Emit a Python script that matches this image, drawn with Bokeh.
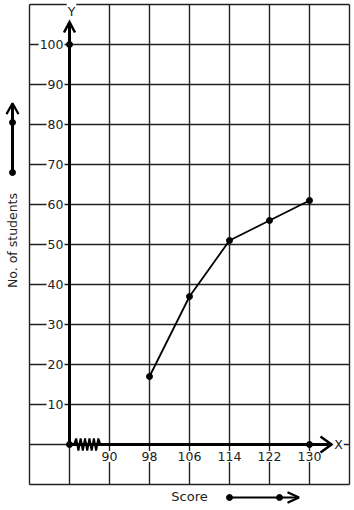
import numpy as np
from bokeh.plotting import figure
from bokeh.models import Range1d, ColumnDataSource
from bokeh.core.properties import value
from bokeh.embed import file_html
from bokeh.resources import INLINE

# ---- data ----
scores = [98, 106, 114, 122, 130]
students = [17, 37, 51, 56, 61]
x_ticks = [90, 98, 106, 114, 122, 130]
x_tick_labels = ["90", "98", "106", "114", "122", "130"]
y_ticks = [10, 20, 30, 40, 50, 60, 70, 80, 90, 100]
y_tick_labels = ["10", "20", "30", "40", "50", "60", "70", "80", "90", "100"]
x_label = "Score"
y_label = "No. of students"

# ---- geometry (data units) ----
origin_x = 82
x_step = 8
y_step = 10
grid_x = list(range(74, 139, x_step))
grid_y = list(range(-10, 111, y_step))

FONT = value("DejaVu Sans")
INK = "#222222"

p = figure(width=354, height=510, output_backend="svg", toolbar_location=None,
           x_range=Range1d(68.2, 139.0), y_range=Range1d(-16.5, 111.0),
           min_border=0, min_border_left=0, min_border_right=0,
           min_border_top=0, min_border_bottom=0)
p.axis.visible = False
p.grid.visible = False
p.outline_line_color = None
p.background_fill_color = "white"
p.border_fill_color = "white"

# grid
p.segment(x0=grid_x, y0=[grid_y[0]] * len(grid_x), x1=grid_x, y1=[grid_y[-1]] * len(grid_x),
          line_color=INK, line_width=1.4)
p.segment(x0=[grid_x[0]] * len(grid_y), y0=grid_y, x1=[grid_x[-1]] * len(grid_y), y1=grid_y,
          line_color=INK, line_width=1.4)

# y tick labels (white background over grid)
p.text(x=[origin_x - 1.0] * len(y_ticks), y=y_ticks, text=y_tick_labels,
       text_font=FONT, text_font_size="12.5px", text_color=INK,
       text_align="right", text_baseline="middle",
       background_fill_color="white", padding=1)
# x tick labels
p.text(x=x_ticks, y=[-3.0] * len(x_ticks), text=x_tick_labels,
       text_font=FONT, text_font_size="12.5px", text_color=INK,
       text_align="center", text_baseline="middle",
       background_fill_color="white", padding=1)

# axes lines
y_top = 105.0
x_right = 133.8
p.line([origin_x, origin_x], [0, y_top], line_color="black", line_width=3)
p.line([origin_x, x_right], [0, 0], line_color="black", line_width=3)
# arrow heads
p.line([origin_x - 1.1, origin_x, origin_x + 1.1], [103.0, 105.6, 103.0],
       line_color="black", line_width=2.5)
p.line([132.2, 134.4, 132.2], [2.0, 0, -2.0], line_color="black", line_width=2.5)
# axis names
p.text(x=[135.8], y=[0], text=["X"], text_font=FONT, text_font_size="12.5px",
       text_color=INK, text_align="center", text_baseline="middle",
       background_fill_color="white", padding=1)
p.text(x=[82.4], y=[108.3], text=["Y"], text_font=FONT, text_font_size="12.5px",
       text_color=INK, text_align="center", text_baseline="middle",
       background_fill_color="white", padding=1)

# axis break zigzag
n = 13
zx = np.linspace(82.9, 88.2, n)
zy = np.array([1.5 if i % 2 else -1.5 for i in range(n)])
zy[0] = 0
zy[-1] = 0
p.line(zx, zy, line_color="black", line_width=2)

# axis dots
p.scatter([origin_x, origin_x, 130], [0, 100, 0], size=6, color="black")

# data
src = ColumnDataSource(dict(x=scores, y=students))
p.line("x", "y", source=src, line_color="black", line_width=1.8)
p.scatter("x", "y", source=src, size=6, color="black")

# y label with arrow
lx = 70.6
p.text(x=[lx], y=[51], text=[y_label], angle=np.pi / 2, text_font=FONT,
       text_font_size="12.5px", text_color=INK, text_align="center",
       text_baseline="middle")
p.line([lx, lx], [68, 85], line_color="black", line_width=3)
p.line([lx - 1.2, lx, lx + 1.2], [82.6, 85.3, 82.6], line_color="black", line_width=2.2)
p.scatter([lx, lx], [68, 80.5], size=6, color="black")

# x label with arrow
ly = -13.25
p.text(x=[106], y=[-13.0], text=[x_label], text_font=FONT, text_font_size="13px",
       text_color=INK, text_align="center", text_baseline="middle")
p.line([114, 127.8], [ly, ly], line_color="black", line_width=2.2)
p.line([125.6, 127.9, 125.6], [ly + 1.3, ly, ly - 1.3], line_color="black", line_width=2.2)
p.scatter([114, 124], [ly, ly], size=6, color="black")

open("out.html", "w").write(file_html(p, INLINE))
